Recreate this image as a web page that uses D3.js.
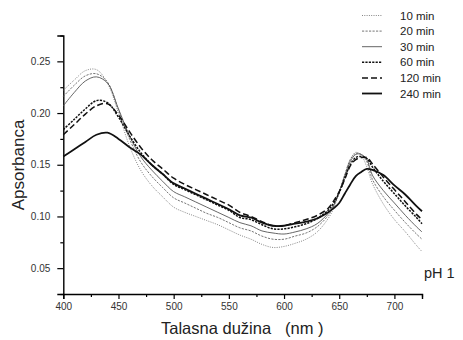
<!DOCTYPE html>
<html>
<head>
<meta charset="utf-8">
<script src="https://cdn.jsdelivr.net/npm/d3@7"></script>
<style>
  html, body { margin: 0; padding: 0; background: #fff; }
  svg { display: block; font-family: "Liberation Sans", Arial, sans-serif; }
</style>
</head>
<body>
<svg id="chart" width="463" height="340"></svg>
<script>
// ---- data ----
const wavelengths = [400,410,420,430,440,450,460,470,480,490,500,510,520,530,540,550,560,570,580,590,600,610,620,630,640,645,650,655,660,665,670,675,680,690,700,710,720,725];
const seriesNames = ["10 min","20 min","30 min","60 min","120 min","240 min"];
const abs10  = [.222,.232,.241,.242,.229,.200,.168,.145,.130,.119,.109,.104,.100,.096,.092,.087,.082,.078,.073,.070,.071,.074,.078,.085,.098,.108,.123,.140,.155,.162,.159,.148,.132,.112,.097,.085,.072,.066];
const abs20  = [.216,.227,.236,.238,.230,.203,.175,.153,.139,.128,.118,.113,.108,.103,.099,.094,.089,.086,.081,.078,.078,.081,.084,.090,.101,.110,.124,.140,.155,.161,.160,.153,.136,.119,.106,.094,.083,.078];
const abs30  = [.207,.220,.231,.235,.229,.204,.178,.158,.145,.134,.124,.119,.114,.109,.104,.099,.094,.091,.086,.084,.083,.085,.088,.093,.103,.111,.124,.139,.153,.160,.160,.155,.140,.125,.113,.101,.090,.085];
const abs60  = [.184,.194,.204,.212,.210,.196,.178,.162,.150,.141,.131,.126,.121,.116,.111,.106,.099,.097,.092,.088,.088,.090,.093,.098,.106,.113,.123,.137,.150,.157,.158,.156,.148,.134,.122,.110,.099,.093];
const abs120 = [.179,.189,.199,.207,.209,.198,.182,.167,.155,.146,.137,.131,.126,.121,.116,.111,.104,.100,.095,.091,.091,.094,.097,.101,.108,.115,.124,.136,.149,.155,.157,.157,.151,.138,.126,.114,.102,.097];
const abs240 = [.158,.165,.172,.179,.181,.175,.167,.160,.150,.141,.132,.127,.122,.117,.112,.107,.101,.099,.094,.091,.091,.093,.095,.098,.104,.108,.113,.122,.131,.139,.143,.146,.145,.140,.130,.121,.110,.105];
const xTicks = [400,450,500,550,600,650,700];
const yTicks = [0.05,0.10,0.15,0.20,0.25];

const seriesValues = [abs10, abs20, abs30, abs60, abs120, abs240];
const styles = [
  {stroke:"#777", width:0.9, dash:"1,1.3"},
  {stroke:"#666", width:0.9, dash:"2.2,1.3"},
  {stroke:"#555", width:0.9, dash:null},
  {stroke:"#111", width:1.5, dash:"2.2,1.2"},
  {stroke:"#111", width:1.5, dash:"6,3"},
  {stroke:"#111", width:1.8, dash:null}
];

const svg = d3.select("#chart");
const x = d3.scaleLinear().domain([400, 725]).range([63.3, 422]);
const y = d3.scaleLinear().domain([0.025, 0.275]).range([294, 35.5]);

// axes
const xAxis = svg.append("g").attr("transform", "translate(0,294)")
  .call(d3.axisBottom(x).tickValues(xTicks).tickFormat(d3.format("d")).tickSize(5).tickPadding(4));
const xMinor = svg.append("g").attr("transform", "translate(0,294)")
  .call(d3.axisBottom(x).tickValues([425,475,525,575,625,675,725]).tickFormat("").tickSize(3));
const yAxis = svg.append("g").attr("transform", "translate(63.3,0)")
  .call(d3.axisLeft(y).tickValues(yTicks).tickFormat(d3.format(".2f")).tickSize(6).tickPadding(7));
const yMinor = svg.append("g").attr("transform", "translate(63.3,0)")
  .call(d3.axisLeft(y).tickValues([0.025,0.075,0.125,0.175,0.225,0.275]).tickFormat("").tickSize(3));

[xAxis, xMinor, yAxis, yMinor].forEach(g => {
  g.select(".domain").attr("stroke", "#000").attr("stroke-width", 1.4);
  g.selectAll(".tick line").attr("stroke", "#000").attr("stroke-width", 1.2);
  g.selectAll(".tick text").attr("fill", "#333").attr("font-size", "10px")
    .attr("font-family", "Liberation Sans, Arial, sans-serif");
});
xMinor.select(".domain").remove();
yMinor.select(".domain").remove();

// lines
const line = d3.line().x(d => x(d[0])).y(d => y(d[1])).curve(d3.curveCatmullRom.alpha(0.5));
seriesValues.forEach((vals, i) => {
  const pts = wavelengths.map((w, j) => [w, vals[j]]);
  const st = styles[i];
  svg.append("path").datum(pts)
    .attr("d", line)
    .attr("fill", "none")
    .attr("stroke", st.stroke)
    .attr("stroke-width", st.width)
    .attr("stroke-dasharray", st.dash);
});

// legend
const legend = svg.append("g");
seriesNames.forEach((name, i) => {
  const yy = 15.5 + i * 15.6;
  const st = styles[i];
  legend.append("line").attr("x1", 362).attr("x2", 382).attr("y1", yy).attr("y2", yy)
    .attr("stroke", st.stroke).attr("stroke-width", st.width).attr("stroke-dasharray", st.dash);
  legend.append("text").attr("x", 400).attr("y", yy + 4)
    .attr("font-size", "11.5px").attr("fill", "#222").text(name);
});

// labels
svg.append("text")
  .attr("transform", "translate(24,165) rotate(-90)")
  .attr("text-anchor", "middle").attr("font-size", "17px").attr("fill", "#222")
  .text("Apsorbanca");
svg.append("text").attr("x", 161).attr("y", 334).attr("font-size", "16.5px").attr("fill", "#222")
  .text("Talasna dužina");
svg.append("text").attr("x", 285).attr("y", 334).attr("font-size", "16.5px").attr("fill", "#222")
  .text("(nm )");
svg.append("text").attr("x", 424).attr("y", 278).attr("font-size", "14.5px").attr("fill", "#222")
  .text("pH 1");
</script>
</body>
</html>
